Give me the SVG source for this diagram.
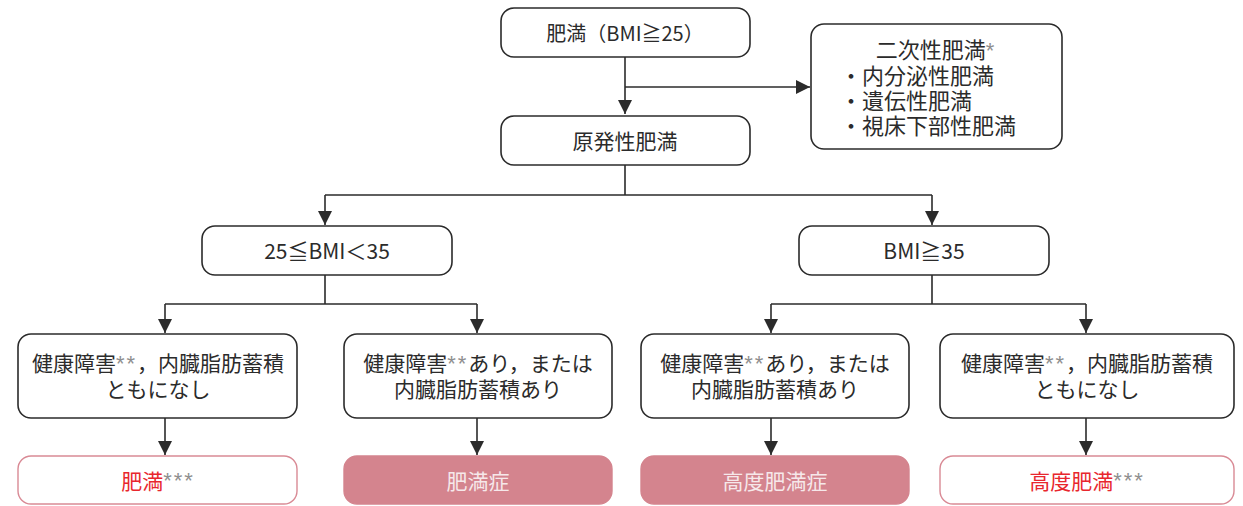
<svg xmlns="http://www.w3.org/2000/svg" width="1243" height="506" viewBox="0 0 1243 506">
<defs>
<style>
.box{fill:#fff;stroke:#2b2b2b;stroke-width:1.6}
.out{fill:#fff;stroke:#d98a95;stroke-width:1.4}
.fill{fill:#d4848e;stroke:#d4848e;stroke-width:1.4}
.t{font-family:"Noto Sans CJK JP","Noto Sans",sans-serif;font-size:21px;fill:#2b2b2b;text-anchor:middle;dominant-baseline:central}
.m{font-family:"Liberation Sans","Noto Sans CJK JP",sans-serif}
.l{text-anchor:start}
.red{fill:#e8262d}
.ast{fill:#8f8f8f;font-family:"Liberation Sans",sans-serif;font-size:22px;letter-spacing:2px}
.wt{fill:#f6e8ea}
.ln{fill:none;stroke:#2b2b2b;stroke-width:1.6}
</style>
<marker id="ahb" viewBox="0 0 10 10" refX="10" refY="5" markerWidth="14" markerHeight="14" markerUnits="userSpaceOnUse" orient="auto">
<path d="M0,0 L10,5 L0,10 z" fill="#2b2b2b"/>
</marker>
</defs>
<g id="connectors">
<path class="ln" d="M625,57 V114" marker-end="url(#ahb)"/>
<path class="ln" d="M625,87 H810" marker-end="url(#ahb)"/>
<path class="ln" d="M625,165 V195 M325,195 H932"/>
<path class="ln" d="M325,195 V225" marker-end="url(#ahb)"/>
<path class="ln" d="M932,195 V225" marker-end="url(#ahb)"/>
<path class="ln" d="M325,275 V304 M165,304 H477"/>
<path class="ln" d="M165,304 V333" marker-end="url(#ahb)"/>
<path class="ln" d="M477,304 V333" marker-end="url(#ahb)"/>
<path class="ln" d="M932,275 V304 M771,304 H1086"/>
<path class="ln" d="M771,304 V333" marker-end="url(#ahb)"/>
<path class="ln" d="M1086,304 V333" marker-end="url(#ahb)"/>
<path class="ln" d="M165,418 V455" marker-end="url(#ahb)"/>
<path class="ln" d="M477,418 V455" marker-end="url(#ahb)"/>
<path class="ln" d="M771,418 V455" marker-end="url(#ahb)"/>
<path class="ln" d="M1086,418 V455" marker-end="url(#ahb)"/>
</g>
<g id="n-obesity">
<rect class="box" x="501" y="8" width="249" height="49" rx="13"/>
<text class="t" x="625" y="32" style="font-size:20px">肥満（BMI≧25）</text>
</g>
<g id="n-secondary">
<rect class="box" x="811" y="24" width="251" height="125" rx="13"/>
<text class="t m" x="936" y="50" style="font-size:22px">二次性肥満<tspan class="ast">*</tspan></text>
<text class="t m l" x="840" y="76" style="font-size:22px">・内分泌性肥満<tspan x="840" dy="25">・遺伝性肥満</tspan><tspan x="840" dy="25">・視床下部性肥満</tspan></text>
</g>
<g id="n-primary">
<rect class="box" x="501" y="116" width="249" height="49" rx="13"/>
<text class="t" x="625" y="140">原発性肥満</text>
</g>
<g id="n-bmi25">
<rect class="box" x="202" y="226" width="250" height="49" rx="13"/>
<text class="t" x="327" y="250">25≦BMI＜35</text>
</g>
<g id="n-bmi35">
<rect class="box" x="799" y="226" width="250" height="49" rx="13"/>
<text class="t" x="924" y="250">BMI≧35</text>
</g>
<g id="n-c1">
<rect class="box" x="18" y="334" width="279" height="84" rx="13"/>
<text class="t m" x="158" y="363">健康障害<tspan class="ast">**</tspan>，内臓脂肪蓄積<tspan x="158" dy="26">ともになし</tspan></text>
</g>
<g id="n-c2">
<rect class="box" x="344" y="334" width="268" height="84" rx="13"/>
<text class="t m" x="478" y="363">健康障害<tspan class="ast">**</tspan>あり，または<tspan x="478" dy="26">内臓脂肪蓄積あり</tspan></text>
</g>
<g id="n-c3">
<rect class="box" x="641" y="334" width="268" height="84" rx="13"/>
<text class="t m" x="775" y="363">健康障害<tspan class="ast">**</tspan>あり，または<tspan x="775" dy="26">内臓脂肪蓄積あり</tspan></text>
</g>
<g id="n-c4">
<rect class="box" x="940" y="334" width="294" height="84" rx="13"/>
<text class="t m" x="1087" y="363">健康障害<tspan class="ast">**</tspan>，内臓脂肪蓄積<tspan x="1087" dy="26">ともになし</tspan></text>
</g>
<g id="n-r1">
<rect class="out" x="18" y="456" width="279" height="48" rx="13"/>
<text class="t" x="158" y="480"><tspan class="red">肥満</tspan><tspan class="ast">***</tspan></text>
</g>
<g id="n-r2">
<rect class="fill" x="344" y="456" width="268" height="48" rx="13"/>
<text class="t wt" x="478" y="480">肥満症</text>
</g>
<g id="n-r3">
<rect class="fill" x="641" y="456" width="268" height="48" rx="13"/>
<text class="t wt" x="775" y="480">高度肥満症</text>
</g>
<g id="n-r4">
<rect class="out" x="940" y="456" width="294" height="48" rx="13"/>
<text class="t" x="1087" y="480"><tspan class="red">高度肥満</tspan><tspan class="ast">***</tspan></text>
</g>
</svg>
